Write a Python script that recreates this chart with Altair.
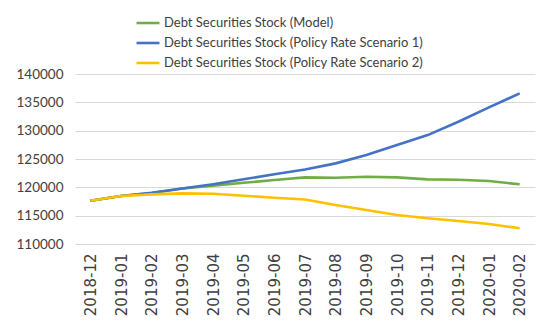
import altair as alt
import pandas as pd

months = ["2018-12", "2019-01", "2019-02", "2019-03", "2019-04", "2019-05", "2019-06",
          "2019-07", "2019-08", "2019-09", "2019-10", "2019-11", "2019-12", "2020-01", "2020-02"]
model = [117640, 118470, 119000, 119800, 120300, 120800, 121290, 121760, 121700, 121870,
         121760, 121410, 121340, 121110, 120530]
scen1 = [117640, 118470, 119050, 119800, 120550, 121430, 122300, 123150, 124230, 125700,
         127460, 129220, 131570, 134110, 136580]
scen2 = [117640, 118470, 118760, 118940, 118870, 118520, 118170, 117850, 116880, 116000,
         115120, 114530, 114060, 113530, 112770]
series_names = ["Debt Securities Stock (Model)",
                "Debt Securities Stock (Policy Rate Scenario 1)",
                "Debt Securities Stock (Policy Rate Scenario 2)"]
colors = ["#70AD47", "#4472C4", "#FFC000"]
y_ticks = [110000, 115000, 120000, 125000, 130000, 135000, 140000]

rows = []
for name, vals in zip(series_names, [model, scen1, scen2]):
    for m, v in zip(months, vals):
        rows.append({"month": m, "value": v, "series": name})
df = pd.DataFrame(rows)

chart = alt.Chart(df).mark_line(strokeWidth=2.6).encode(
    x=alt.X("month:O", sort=months, title=None,
            axis=alt.Axis(labelAngle=-90, labelFont="DejaVu Sans", labelFontSize=15,
                          labelColor="#404040", ticks=False, domain=False, grid=False,
                          labelPadding=9)),
    y=alt.Y("value:Q", title=None,
            scale=alt.Scale(domain=[110000, 140000], nice=False, zero=False),
            axis=alt.Axis(values=y_ticks, format="d", labelFont="Lato", labelFontSize=13.5,
                          labelColor="#404040", ticks=False, domain=False,
                          gridColor="#D9D9D9", gridWidth=1, labelPadding=12)),
    color=alt.Color("series:N", sort=series_names,
                    scale=alt.Scale(domain=series_names, range=colors),
                    legend=alt.Legend(title=None, orient="none", legendX=60, legendY=-64,
                                      symbolType="stroke", symbolSize=529,
                                      symbolStrokeWidth=2.6, labelFont="Lato",
                                      labelFontSize=13, labelColor="#404040",
                                      rowPadding=-3, labelOffset=3, labelLimit=400)),
).properties(
    width=460, height=170,
    padding={"left": 67, "top": 66, "right": 7, "bottom": 74},
    autosize=alt.AutoSizeParams(type="none"),
).configure_view(stroke=None)

chart.save("out.html", embed_options={"renderer": "svg", "actions": False})
